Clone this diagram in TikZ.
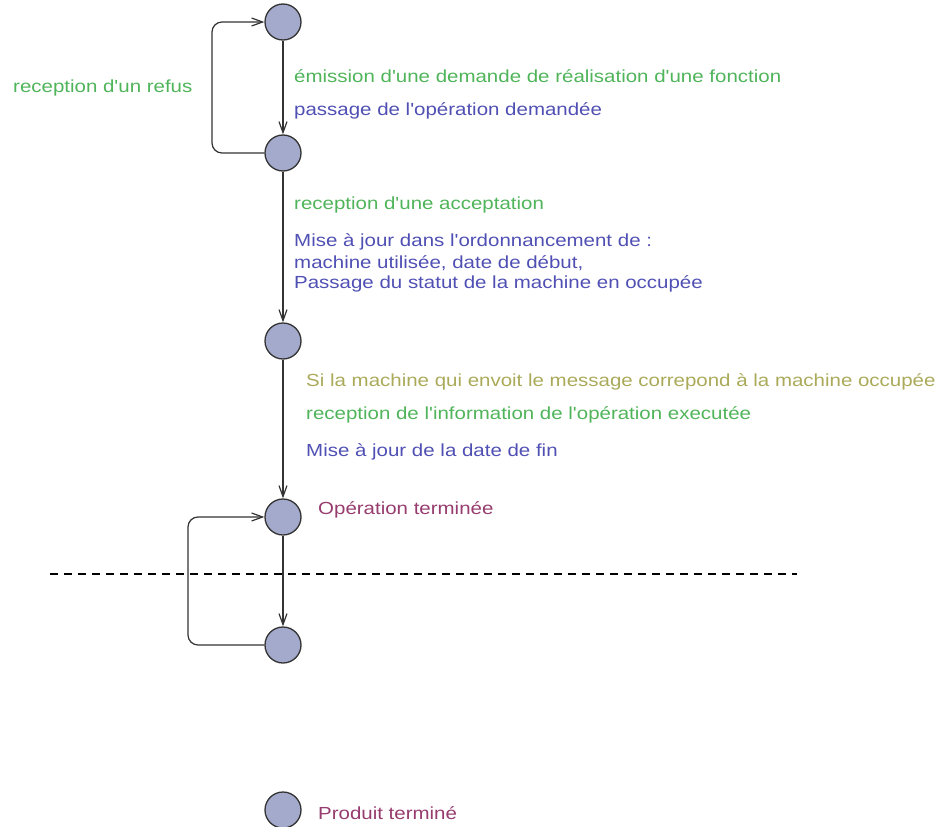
\documentclass[tikz,border=0pt]{standalone}
\usepackage{fontspec}
\setmainfont{Liberation Sans}[Ligatures=TeXOff,FakeStretch=1.17]
\usetikzlibrary{arrows.meta}
\definecolor{stategray}{RGB}{163,170,204}
\definecolor{edgegreen}{RGB}{80,180,90}
\definecolor{actblue}{RGB}{80,80,180}
\definecolor{condolive}{RGB}{170,170,90}
\definecolor{statemaroon}{RGB}{150,60,110}
\begin{document}
\begin{tikzpicture}[x=1pt,y=-1pt,
  state/.style={circle,draw=black!80,line width=1.3pt,fill=stategray,minimum size=36pt,inner sep=0pt},
  lbl/.style={anchor=west,inner sep=0pt,font=\fontsize{17.5}{21}\selectfont},
  trans/.style={draw=black!80,line width=1.2pt,-{Straight Barb[length=11pt,width=8pt]}},
  loop/.style={trans,rounded corners=10pt}]
\useasboundingbox (0,0) rectangle (938,827);

% states
\node[state] (s1) at (283,22) {};
\node[state] (s2) at (283,153) {};
\node[state] (s3) at (283,341) {};
\node[state] (s4) at (283,517) {};
\node[state] (s5) at (283,645) {};
\node[state] (s6) at (283,810) {};

% transitions
\draw[trans] (s1) -- (s2);
\draw[trans] (s2) -- (s3);
\draw[trans] (s3) -- (s4);
\draw[trans] (s4) -- (s5);
\coordinate (l1) at (212,0);
\coordinate (l2) at (188,0);
\draw[loop] (s2.west) -- (l1 |- s2.west) -- (l1 |- s1.west) -- (s1.west);
\draw[loop] (s5.west) -- (l2 |- s5.west) -- (l2 |- s4.west) -- (s4.west);

% separator
\coordinate (d1) at (50,574);
\coordinate (d2) at (797,574);
\draw[line width=1.3pt,dash pattern=on 8pt off 6pt] (d1) -- (d2);

% labels
\node[lbl,text=edgegreen] (t0) at (13,88) {reception d'un refus};
\node[lbl,text=edgegreen] (t1) at (294,76) {émission d'une demande de réalisation d'une fonction};
\node[lbl,text=actblue] (t2) at (294,111) {passage de l'opération demandée};
\node[lbl,text=edgegreen] (t3) at (294,205) {reception d'une acceptation};
\node[lbl,text=actblue] (t4) at (294,242) {Mise à jour dans l'ordonnancement de :};
\node[lbl,text=actblue] (t5) at (294,263) {machine utilisée, date de début,};
\node[lbl,text=actblue] (t6) at (294,284) {Passage du statut de la machine en occupée};
\node[lbl,text=condolive] (t7) at (306,382) {Si la machine qui envoit le message correpond à la machine occupée};
\node[lbl,text=edgegreen] (t8) at (306,415) {reception de l'information de l'opération executée};
\node[lbl,text=actblue] (t9) at (306,452) {Mise à jour de la date de fin};
\node[lbl,text=statemaroon] (t10) at (318,510) {Opération terminée};
\node[lbl,text=statemaroon] (t11) at (318,813) {Produit terminé};
\end{tikzpicture}
\end{document}
